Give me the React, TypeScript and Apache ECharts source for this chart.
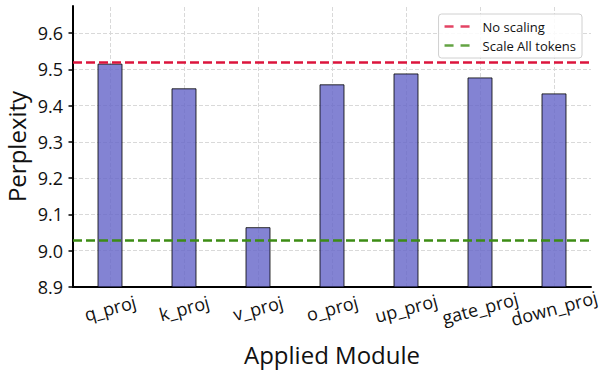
import React, { useEffect, useRef } from "react";
import * as echarts from "echarts";

const categories = ["q_proj", "k_proj", "v_proj", "o_proj", "up_proj", "gate_proj", "down_proj"];
const perplexity = [9.516, 9.448, 9.065, 9.459, 9.489, 9.478, 9.434];
const noScaling = 9.518;
const scaleAllTokens = 9.027;
const yTicks = [8.9, 9.0, 9.1, 9.2, 9.3, 9.4, 9.5, 9.6];

const FONT = "'Open Sans', 'Noto Sans', sans-serif";
const DASH_ICON = "path://M0 0H9V2.5H0Z M16 0H25V2.5H16Z";

export default function App() {
  const ref = useRef<HTMLDivElement>(null);
  useEffect(() => {
    if (!ref.current) return;
    const chart = echarts.init(ref.current, undefined, { renderer: "svg" });
    const gridLineStyle = { color: "#d9d9d9", width: 1, type: [4, 2] as any };
    chart.setOption({
      animation: false,
      backgroundColor: "#fff",
      grid: { left: 73, width: 518, top: 6, bottom: 84, containLabel: false, outerBoundsMode: "none" },
      legend: {
        orient: "vertical",
        right: 19,
        top: 14,
        padding: [6, 6, 6, 6],
        itemWidth: 25,
        itemHeight: 14,
        itemGap: 6,
        borderColor: "#d0d0d0",
        borderWidth: 1,
        borderRadius: 3,
        backgroundColor: "rgba(255,255,255,0.85)",
        textStyle: { fontFamily: FONT, fontSize: 13, color: "#111", padding: [0, 0, 0, 8] },
        data: [
          { name: "No scaling", icon: DASH_ICON },
          { name: "Scale All tokens", icon: DASH_ICON },
        ],
      },
      xAxis: {
        type: "category",
        data: categories,
        name: "Applied Module",
        nameLocation: "middle",
        nameGap: 55,
        nameMoveOverlap: false,
        nameTextStyle: { fontFamily: FONT, fontSize: 24, color: "#111" },
        axisLine: { lineStyle: { color: "#000", width: 2 } },
        axisTick: { alignWithLabel: true, length: 4, lineStyle: { color: "#000", width: 1.5 } },
        axisLabel: {
          interval: 0,
          rotate: 15,
          align: "center",
          verticalAlign: "middle",
          margin: 21,
          fontFamily: FONT,
          fontSize: 18,
          color: "#111",
        },
        splitLine: { show: false },
      },
      yAxis: {
        type: "value",
        min: 8.9,
        max: 9.675,
        interval: 0.1,
        name: "Perplexity",
        nameLocation: "middle",
        nameGap: 45,
        nameRotate: 90,
        nameMoveOverlap: false,
        nameTextStyle: { fontFamily: FONT, fontSize: 24, color: "#111" },
        axisLine: { show: true, lineStyle: { color: "#000", width: 2 } },
        axisTick: { show: true, length: 4.5, customValues: yTicks, lineStyle: { color: "#000", width: 1.5 } },
        axisLabel: {
          customValues: yTicks,
          margin: 10,
          fontFamily: FONT,
          fontSize: 18,
          color: "#111",
          formatter: (v: number) => v.toFixed(1),
        },
        splitLine: { show: false },
      },
      series: [
        {
          name: "grid",
          type: "line",
          data: [],
          z: 0,
          silent: true,
          markLine: {
            silent: true,
            symbol: "none",
            label: { show: false },
            lineStyle: gridLineStyle,
            z: 0,
            data: [
              ...categories.map((c) => ({ xAxis: c })),
              ...yTicks.slice(1).map((t) => ({ yAxis: t })),
            ],
          },
        },
        {
          name: "Perplexity",
          type: "bar",
          data: perplexity,
          barWidth: 25,
          z: 2,
          itemStyle: {
            color: "rgba(100,100,200,0.8)",
            borderColor: "rgba(0,0,0,0.8)",
            borderWidth: 1,
          },
        },
        {
          name: "No scaling",
          type: "scatter",
          data: [],
          z: 5,
          itemStyle: { color: "crimson" },
          markLine: {
            silent: true,
            symbol: "none",
            label: { show: false },
            lineStyle: { color: "crimson", width: 2.5, type: [9, 4] },
            data: [{ yAxis: noScaling }],
          },
        },
        {
          name: "Scale All tokens",
          type: "scatter",
          data: [],
          z: 5,
          itemStyle: { color: "#3c8c14" },
          markLine: {
            silent: true,
            symbol: "none",
            label: { show: false },
            lineStyle: { color: "#3c8c14", width: 2.5, type: [9, 4] },
            data: [{ yAxis: scaleAllTokens }],
          },
        },
      ],
    });
    return () => chart.dispose();
  }, []);
  return <div ref={ref} style={{ width: 601, height: 371, position: "absolute", left: 0, top: 0 }} />;
}
